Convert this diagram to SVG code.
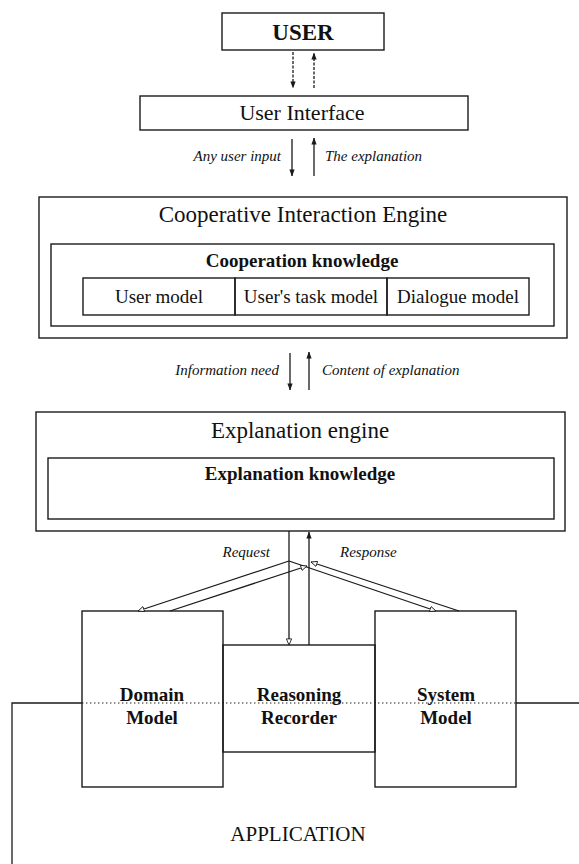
<svg xmlns="http://www.w3.org/2000/svg" width="579" height="864" viewBox="0 0 579 864">
  <style>
    .box { fill: none; stroke: #1a1a1a; stroke-width: 1.4; }
    .line { fill: none; stroke: #1a1a1a; stroke-width: 1.3; }
    .dash { stroke-dasharray: 3 1.5; }
    .dots { fill: none; stroke: #1a1a1a; stroke-width: 1.2; stroke-dasharray: 1.4 2.6; }
    text { font-family: "Liberation Serif", "Times New Roman", serif; fill: #111; }
    .title { font-size: 23px; text-anchor: middle; }
    .sub { font-size: 19px; text-anchor: middle; }
    .bold { font-weight: bold; }
    .lab { font-size: 15px; font-style: italic; }
    .end { text-anchor: end; }
  </style>
  <defs>
    <marker id="tip" viewBox="0 0 8 8" refX="7.5" refY="4" markerWidth="7" markerHeight="7" markerUnits="userSpaceOnUse" orient="auto">
      <path d="M0,1 L8,4 L0,7 z" fill="#1a1a1a"/>
    </marker>
    <marker id="open" viewBox="0 0 8 8" refX="7.5" refY="4" markerWidth="7" markerHeight="7" markerUnits="userSpaceOnUse" orient="auto">
      <path d="M0.5,1 L7.5,4 L0.5,7 z" fill="#fff" stroke="#1a1a1a" stroke-width="1"/>
    </marker>
  </defs>

  <rect width="579" height="864" fill="#fff"/>

  <g id="user">
    <rect class="box" x="222" y="13" width="162" height="37"/>
    <text class="title bold" x="303" y="40" font-size="22">USER</text>
  </g>

  <g id="user-interface">
    <rect class="box" x="140" y="96" width="328" height="34"/>
    <text class="title" x="302" y="120" style="font-size:22px">User Interface</text>
  </g>

  <g id="cooperative-interaction-engine">
    <rect class="box" x="39" y="197" width="528" height="141"/>
    <text class="title" x="303" y="222">Cooperative Interaction Engine</text>
    <g id="cooperation-knowledge">
      <rect class="box" x="51" y="244" width="503" height="82"/>
      <text class="sub bold" x="302" y="267">Cooperation knowledge</text>
    </g>
    <g id="user-model">
      <rect class="box" x="83" y="278" width="152" height="37"/>
      <text class="sub" x="159" y="303">User model</text>
    </g>
    <g id="users-task-model">
      <rect class="box" x="235" y="278" width="152" height="37"/>
      <text class="sub" x="311" y="303">User's task model</text>
    </g>
    <g id="dialogue-model">
      <rect class="box" x="387" y="278" width="142" height="37"/>
      <text class="sub" x="458" y="303">Dialogue model</text>
    </g>
  </g>

  <g id="explanation-engine">
    <rect class="box" x="36" y="412" width="529" height="119"/>
    <text class="title" x="300" y="438">Explanation engine</text>
    <g id="explanation-knowledge">
      <rect class="box" x="48" y="458" width="506" height="61"/>
      <text class="sub bold" x="300" y="480">Explanation knowledge</text>
    </g>
  </g>

  <g id="domain-model">
    <rect class="box" x="82" y="611" width="141" height="176"/>
    <text class="sub bold" x="152" y="701">Domain</text>
    <text class="sub bold" x="152" y="724">Model</text>
  </g>

  <g id="reasoning-recorder">
    <rect class="box" x="223" y="645" width="152" height="107"/>
    <text class="sub bold" x="299" y="701">Reasoning</text>
    <text class="sub bold" x="299" y="724">Recorder</text>
  </g>

  <g id="system-model">
    <rect class="box" x="375" y="611" width="141" height="176"/>
    <text class="sub bold" x="446" y="701">System</text>
    <text class="sub bold" x="446" y="724">Model</text>
  </g>

  <g id="application">
    <polyline class="line" points="12,864 12,703 82,703"/>
    <line class="dots" x1="82" y1="703" x2="516" y2="703"/>
    <line class="line" x1="516" y1="703" x2="579" y2="703"/>
    <text class="title" x="298" y="841" style="font-size:21px">APPLICATION</text>
  </g>

  <g id="connectors">
    <!-- USER <-> User Interface -->
    <line class="line dash" x1="293" y1="52" x2="293" y2="88" marker-end="url(#tip)"/>
    <line class="line dash" x1="314" y1="88" x2="314" y2="53" marker-end="url(#tip)"/>

    <!-- User Interface <-> Cooperative Interaction Engine -->
    <line class="line" x1="292" y1="139" x2="292" y2="176" marker-end="url(#tip)"/>
    <line class="line" x1="314" y1="176" x2="314" y2="138" marker-end="url(#tip)"/>
    <text class="lab end" x="281" y="161">Any user input</text>
    <text class="lab" x="325" y="161">The explanation</text>

    <!-- Cooperative Interaction Engine <-> Explanation engine -->
    <line class="line" x1="290" y1="353" x2="290" y2="390" marker-end="url(#tip)"/>
    <line class="line" x1="309" y1="390" x2="309" y2="352" marker-end="url(#tip)"/>
    <text class="lab end" x="279" y="375">Information need</text>
    <text class="lab" x="322" y="375">Content of explanation</text>

    <!-- Explanation engine <-> application models -->
    <line class="line" x1="289" y1="531" x2="289" y2="645" marker-end="url(#open)"/>
    <line class="line" x1="309" y1="645" x2="309" y2="532" marker-end="url(#tip)"/>
    <line class="line" x1="289" y1="561" x2="138" y2="611" marker-end="url(#open)"/>
    <line class="line" x1="289" y1="561" x2="436" y2="611" marker-end="url(#open)"/>
    <line class="line" x1="170" y1="611" x2="307" y2="566" marker-end="url(#open)"/>
    <line class="line" x1="459" y1="611" x2="311" y2="562" marker-end="url(#open)"/>
    <text class="lab end" x="270" y="557">Request</text>
    <text class="lab" x="340" y="557">Response</text>
  </g>
</svg>
